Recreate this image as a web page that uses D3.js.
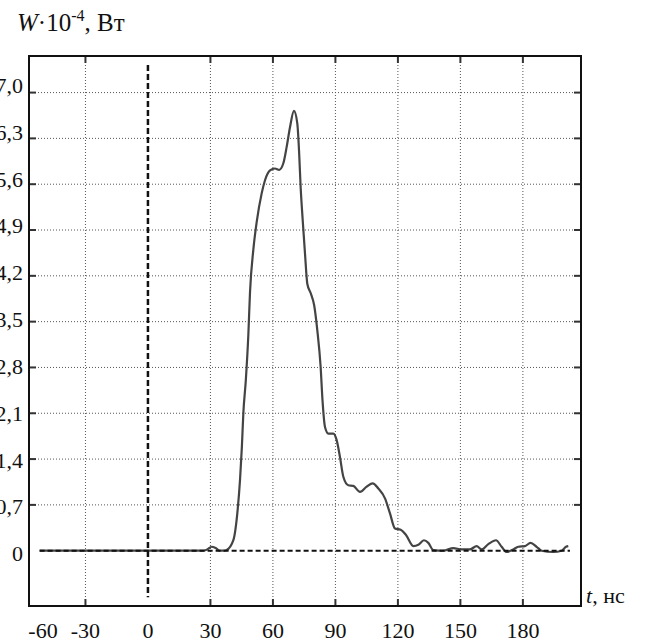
<!DOCTYPE html>
<html lang="ru">
<head>
  <meta charset="UTF-8">
  <title>W(t)</title>
  <script src="https://d3js.org/d3.v7.min.js"></script>
  <style>
    body { margin: 0; background: #fff; }
    svg { display: block; }
    text { font-family: "Liberation Serif", "Times New Roman", serif; font-size: 22px; fill: #111; }
    text.title tspan { font-size: 25px; }
    text.title tspan.sup { font-size: 16px; }
  </style>
</head>
<body>
  <svg width="645" height="642"></svg>

  <script>
    // time, ns and power, W*10^-4
    const tNs = [-52, -20, 10, 26, 28.5, 30.6, 32.5, 34.6, 36.5, 37.8, 41, 42.9, 44.2, 45.1, 45.8, 47,
      48.2, 49, 50.6, 52.2, 54.6, 56.2, 58.6, 61, 63, 65, 66.6, 68.2, 70.1, 71.7, 72.6, 73.3,
      74.3, 75.4, 76.5, 78.2, 79.8, 81.3, 82.9, 83.8, 85, 86.6, 89, 90.6, 92.2, 93.8, 96.2,
      98.6, 101.8, 105, 107.9, 110.6, 113.8, 116.2, 118.6, 121.3, 123.9, 127.4, 129.8, 132.5,
      134.6, 137, 141.8, 146.6, 150.6, 154.6, 157.8, 160.2, 163.4, 167.1, 169.8, 172.2, 175.4,
      177.8, 181, 183.7, 186.6, 189, 194.6, 198.6, 200.7, 201.8];
    const power = [0, 0, 0, 0, 0.02, 0.06, 0.04, 0, 0, 0.01, 0.16, 0.57, 1.08, 1.59, 2.1, 2.61,
      3.3, 3.95, 4.6, 5.02, 5.46, 5.66, 5.81, 5.84, 5.82, 5.92, 6.17, 6.47, 6.72, 6.53, 6.07, 5.56,
      5.05, 4.54, 4.08, 3.93, 3.75, 3.37, 2.81, 2.3, 1.89, 1.79, 1.79, 1.69, 1.43, 1.13, 1.0,
      0.99, 0.9, 0.98, 1.03, 0.95, 0.8, 0.57, 0.34, 0.32, 0.24, 0.07, 0.09, 0.16,
      0.12, 0.01, 0, 0.04, 0.02, 0.02, 0.07, 0.02, 0.1, 0.16, 0.06, -0.02, 0.02,
      0.06, 0.07, 0.12, 0.06, 0, -0.02, 0, 0.06, 0.07];

    const xTicks = [-30, 30, 60, 90, 120, 150, 180];
    const xLabels = [-60, -30, 0, 30, 60, 90, 120, 150, 180];
    const yTicks = [0.7, 1.4, 2.1, 2.8, 3.5, 4.2, 4.9, 5.6, 6.3, 7.0];
    const yLabels = [0, 0.7, 1.4, 2.1, 2.8, 3.5, 4.2, 4.9, 5.6, 6.3, 7.0];

    const svg = d3.select("svg");
    const pLeft = 29, pRight = 581, pTop = 56, pBottom = 606;

    const x = d3.scaleLinear().domain([-57.1, 207.9]).range([pLeft, pRight]);
    const y = d3.scaleLinear().domain([-0.845, 7.559]).range([pBottom, pTop]);
    // tick labels on the left sit on their own, slightly wider spacing
    const yLab = d3.scaleLinear().domain([0, 7]).range([y(0) + 3, y(7) - 7]);

    const fmt = v => v === 0 ? "0" : d3.format(".1f")(v).replace(".", ",");

    // grid
    const grid = svg.append("g")
      .attr("stroke", "#555")
      .attr("stroke-width", 1)
      .attr("stroke-dasharray", "1,2");
    grid.selectAll("line.v").data(xTicks).enter().append("line")
      .attr("x1", d => x(d)).attr("x2", d => x(d))
      .attr("y1", pTop).attr("y2", pBottom);
    grid.selectAll("line.h").data(yTicks).enter().append("line")
      .attr("y1", d => y(d)).attr("y2", d => y(d))
      .attr("x1", pLeft).attr("x2", pRight);

    // curve
    const pts = tNs.map((t, i) => [t, power[i]]);
    const line = d3.line()
      .x(d => x(d[0]))
      .y(d => y(d[1]))
      .curve(d3.curveMonotoneX);
    svg.append("path")
      .datum(pts)
      .attr("d", line)
      .attr("fill", "none")
      .attr("stroke", "#444")
      .attr("stroke-width", 2.2)
      .attr("stroke-linejoin", "round");

    // dashed zero lines
    svg.append("line")
      .attr("x1", x(-52)).attr("x2", x(202.6))
      .attr("y1", y(0)).attr("y2", y(0))
      .attr("stroke", "#111").attr("stroke-width", 2)
      .attr("stroke-dasharray", "5,3");
    svg.append("line")
      .attr("x1", x(0)).attr("x2", x(0))
      .attr("y1", y(7.42)).attr("y2", y(-0.71))
      .attr("stroke", "#111").attr("stroke-width", 2.5)
      .attr("stroke-dasharray", "6,3");

    // inward ticks on all sides
    const tk = 7;
    const ticks = svg.append("g").attr("stroke", "#333").attr("stroke-width", 2);
    xTicks.forEach(v => {
      ticks.append("line").attr("x1", x(v)).attr("x2", x(v)).attr("y1", pBottom).attr("y2", pBottom - tk);
      ticks.append("line").attr("x1", x(v)).attr("x2", x(v)).attr("y1", pTop).attr("y2", pTop + tk);
    });
    yTicks.forEach(v => {
      ticks.append("line").attr("y1", y(v)).attr("y2", y(v)).attr("x1", pLeft).attr("x2", pLeft + tk);
      ticks.append("line").attr("y1", y(v)).attr("y2", y(v)).attr("x1", pRight).attr("x2", pRight - tk);
    });

    // frame
    svg.append("rect")
      .attr("x", pLeft).attr("y", pTop)
      .attr("width", pRight - pLeft).attr("height", pBottom - pTop)
      .attr("fill", "none").attr("stroke", "#111").attr("stroke-width", 2);

    // labels
    svg.append("g").selectAll("text").data(xLabels).enter().append("text")
      .attr("x", d => Math.max(x(d), pLeft + 14))
      .attr("y", 638)
      .attr("text-anchor", "middle")
      .text(d => d);

    svg.append("g").selectAll("text").data(yLabels).enter().append("text")
      .attr("x", 23)
      .attr("y", d => yLab(d))
      .attr("dy", "0.34em")
      .attr("text-anchor", "end")
      .text(fmt);

    const title = svg.append("text").attr("class", "title").attr("x", 17).attr("y", 31);
    title.append("tspan").attr("font-style", "italic").text("W");
    title.append("tspan").text("·10");
    title.append("tspan").attr("class", "sup").attr("dy", -10).text("-4");
    title.append("tspan").attr("dy", 10).text(", Вт");

    const xt = svg.append("text").attr("x", 586).attr("y", 603);
    xt.append("tspan").attr("font-style", "italic").text("t");
    xt.append("tspan").text(", нс");
  </script>
</body>
</html>
